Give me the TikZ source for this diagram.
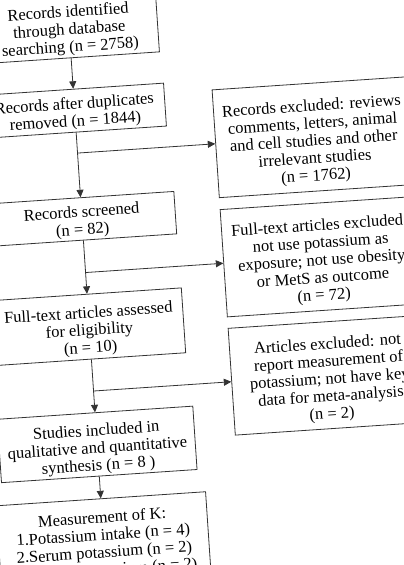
\documentclass[tikz,border=0pt]{standalone}
\usepackage{fontspec}
\setmainfont{Liberation Serif}
\usetikzlibrary{arrows.meta}
\newcommand{\gapA}{\rule{0pt}{21pt}}
\newcommand{\gapB}{\rule{0pt}{17.5pt}}
\newcommand{\gapC}{\rule{0pt}{19pt}}
\begin{document}
\begin{tikzpicture}[x=1pt,y=-1pt,
  box/.style={draw=black!80, line width=0.8pt, align=center, inner sep=0pt,
    font=\fontsize{16.5}{17.5}\selectfont, transform shape, fill=white},
  conn/.style={draw=black!80, line width=0.8pt},
  arr/.style={conn, -{Triangle[length=7.5pt,width=7pt]}}]
\useasboundingbox (0,0) rectangle (404,565);
\clip (0,0) rectangle (404,565);
\fill[white] (0,0) rectangle (404,565);
\begin{scope}[rotate around={3.85:(202,282.5)}]
% left column
\node[box, minimum width=177pt, minimum height=64pt] (b1) at (86.5,17.5)
  {\gapA Records identified\\ through database\\ searching (n = 2758)};
\node[box, minimum width=181pt, minimum height=43pt] (b2) at (86.5,102.5)
  {\gapB Records after duplicates\\ removed (n = 1844)};
\node[box, minimum width=187pt, minimum height=42.5pt] (b3) at (86.5,211)
  {\gapB Records screened\\ (n = 82)};
\node[box, minimum width=189pt, minimum height=65pt] (b4) at (86.5,319)
  {\gapA Full-text articles assessed\\ for eligibility\\ (n = 10)};
\node[box, minimum width=196pt, minimum height=63.5pt] (b5) at (86.5,437)
  {\gapA Studies included in\\ qualitative and quantitative\\ synthesis (n = 8 )};
\node[box, minimum width=210pt, minimum height=85pt] (b6) at (86.5,534)
  {\gapC Measurement of K:\\ 1.Potassium intake (n = 4)\\ 2.Serum potassium (n = 2)\\ 3.Urinary potassium (n = 2)};
% right column
\node[box, minimum width=196pt, minimum height=108pt] (r1) at (323,145)
  {\gapA Records excluded: reviews\\ comments, letters, animal\\ and cell studies and other\\ irrelevant studies\\ (n = 1762)};
\node[box, minimum width=196pt, minimum height=107.5pt] (r2) at (323,264.75)
  {\gapA Full-text articles excluded:\\ not use potassium as\\ exposure; not use obesity\\ or MetS as outcome\\ (n = 72)};
\node[box, minimum width=196pt, minimum height=107pt] (r3) at (323,383.5)
  {\gapA Articles excluded: not\\ report measurement of\\ potassium; not have key\\ data for meta-analysis\\ (n = 2)};
% junctions
\coordinate (j1) at (86.5,145);
\coordinate (j2) at (86.5,264.75);
\coordinate (j3) at (86.5,383.5);
% connectors
\draw[arr] (b1) -- (b2);
\draw[arr] (b2) -- (b3);
\draw[arr] (b3) -- (b4);
\draw[arr] (b4) -- (b5);
\draw[arr] (b5) -- (b6);
\draw[arr] (j1) -- (r1.west);
\draw[arr] (j2) -- (r2.west);
\draw[arr] (j3) -- (r3.west);
\end{scope}
\end{tikzpicture}
\end{document}
